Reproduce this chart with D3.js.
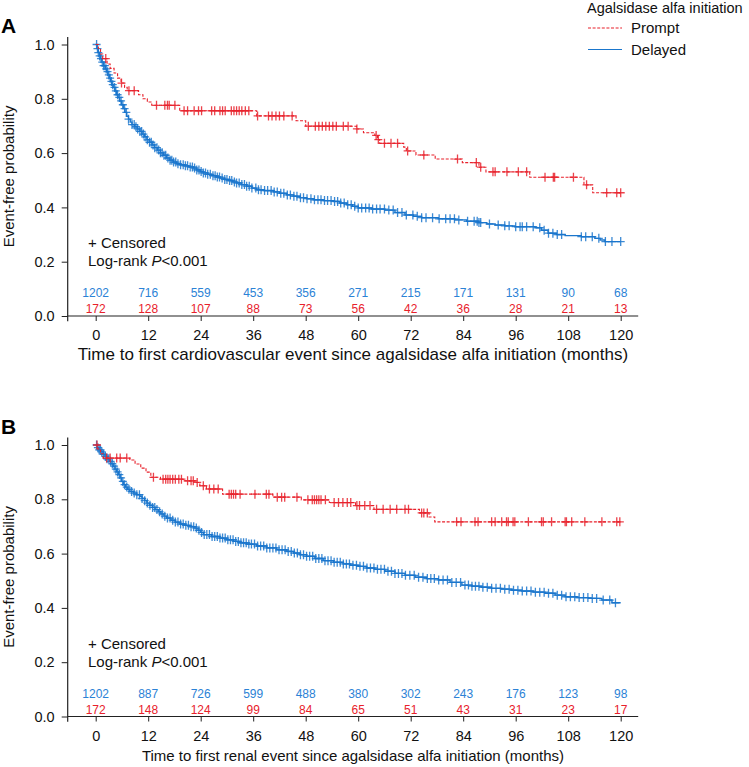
<!DOCTYPE html>
<html><head><meta charset="utf-8">
<script src="https://cdn.jsdelivr.net/npm/d3@7"></script>
<style>
html,body{margin:0;padding:0;background:#fff;}
svg text{font-family:"Liberation Sans",Arial,Helvetica,sans-serif;}
</style></head>
<body>
<svg id="chart" width="749" height="767"></svg>
<script>
// ---------- DATA ----------
const riskTicks = [0,12,24,36,48,60,72,84,96,108,120];
const yTicks = [0,0.2,0.4,0.6,0.8,1.0];
const groupNames = ["Prompt","Delayed"];
const legendTitle = "Agalsidase alfa initiation";

// Panel A: cardiovascular
const cvPromptTime = [0,0.6,1.1,1.6,2.6,3.3,4.2,5.0,5.8,6.6,7.2,9.8,10.8,11.8,12.8,19.2,36.8,45.8,48.0,59.6,61.2,63.8,64.4,64.9,70.4,71.0,73.2,77.6,83.8,87.6,89.2,99.2,111.6,113.6];
const cvPromptSurv = [1,0.985,0.965,0.948,0.928,0.912,0.895,0.876,0.858,0.842,0.83,0.815,0.8,0.788,0.776,0.756,0.737,0.719,0.699,0.689,0.675,0.665,0.65,0.636,0.622,0.608,0.593,0.578,0.565,0.548,0.531,0.511,0.483,0.454];
const cvPromptCensor = [2.3,5.9,7.6,8.8,13.9,15.8,16.4,16.8,18.1,20.2,21.0,22.5,23.5,24.2,26.5,27.2,28.4,29.0,29.6,31.0,31.6,32.2,32.8,33.4,34.2,35.0,37.0,39.5,40.3,41.2,42.0,43.0,44.9,48.6,50.2,51.0,51.8,52.6,53.4,54.2,55.0,56.6,57.7,59.7,64.1,64.6,66.0,67.5,69.0,71.3,75.0,82.7,87.0,88.0,90.8,91.3,94.0,96.6,98.5,102.7,104.6,104.9,109.2,112.2,116.8,119.1,120.0];

const cvDelayedTime = [0,0.3,0.6,0.9,1.1,1.4,1.8,2.2,2.5,2.8,3.1,3.4,3.7,4.0,4.4,4.8,5.1,5.5,5.9,6.3,6.7,7.1,7.5,7.9,8.3,8.9,9.5,10.1,10.6,11.2,11.7,12.3,12.9,13.5,14.1,14.8,15.5,16.2,16.9,17.7,18.5,19.3,20.3,21.3,22.3,23.1,23.9,24.6,25.6,26.5,27.5,28.4,29.4,30.3,31.3,32.2,33.3,34.5,35.7,36.8,38.5,40.6,42.0,43.6,45.2,46.7,48.2,49.7,52.0,54.3,55.8,57.4,58.7,60.0,63.0,66.1,68.4,70.7,72.6,74.5,78.3,82.1,84.8,87.5,89.4,91.3,93.5,95.8,100.4,101.9,103.4,105.3,107.3,111.0,114.1,115.3,116.4];
const cvDelayedSurv = [1,0.985,0.970,0.958,0.948,0.935,0.922,0.910,0.900,0.888,0.876,0.864,0.852,0.842,0.829,0.815,0.805,0.792,0.778,0.764,0.750,0.736,0.725,0.714,0.705,0.697,0.689,0.680,0.670,0.660,0.649,0.640,0.630,0.620,0.611,0.601,0.592,0.582,0.574,0.567,0.561,0.557,0.553,0.549,0.545,0.538,0.532,0.527,0.522,0.517,0.512,0.508,0.503,0.499,0.494,0.490,0.484,0.478,0.471,0.465,0.462,0.457,0.452,0.446,0.441,0.436,0.432,0.428,0.425,0.422,0.416,0.410,0.404,0.398,0.394,0.390,0.381,0.372,0.367,0.362,0.358,0.354,0.349,0.344,0.339,0.335,0.332,0.329,0.325,0.316,0.305,0.300,0.296,0.292,0.286,0.280,0.274];
const cvDelayedCensor = [0.2,0.4,0.6,0.9,1.2,1.5,1.8,2.1,2.4,2.7,3.0,3.3,3.6,3.9,4.3,4.6,5.0,5.4,5.8,6.2,6.6,7.0,7.5,8.3,8.8,9.2,9.6,10.1,10.5,10.9,11.3,11.8,12.3,12.7,13.1,13.5,14.0,14.4,14.8,15.2,15.6,16.0,16.5,17.0,17.4,17.8,18.3,18.8,19.4,20.0,20.5,21.0,21.6,22.1,22.6,23.1,23.6,24.1,24.6,25.1,25.6,26.2,26.8,27.3,27.8,28.3,28.9,29.5,30.0,30.6,31.1,31.7,32.2,32.8,33.4,34.0,34.5,35.1,35.7,36.6,37.2,37.8,38.6,39.3,40.1,40.8,41.5,42.3,43.0,43.8,44.5,45.3,46.0,46.8,47.5,48.3,49.2,50.0,50.8,51.5,52.3,53.0,53.8,54.6,55.3,56.0,56.8,57.6,58.4,59.2,60.0,60.8,61.7,62.5,63.3,64.2,65.0,66.0,67.0,68.0,69.0,70.0,71.0,72.5,73.5,74.5,75.5,77.0,78.5,80.0,81.0,82.0,83.0,85.0,86.5,87.2,87.6,88.0,90.0,92.0,93.5,94.5,96.0,97.0,97.5,98.5,100.0,101.5,102.5,103.5,104.5,105.5,106.5,111.0,112.0,113.5,115.0,116.5,118.0,120.0];

const cvRiskDelayed = [1202,716,559,453,356,271,215,171,131,90,68];
const cvRiskPrompt = [172,128,107,88,73,56,42,36,28,21,13];

// Panel B: renal
const renPromptTime = [0,0.5,1.1,1.7,7.8,9.0,10.3,11.5,12.6,14.8,20.4,23.0,23.8,25.3,29.0,40.5,47.0,53.4,59.4,63.6,74.0,76.2,77.5];
const renPromptSurv = [1,0.985,0.968,0.952,0.945,0.93,0.915,0.9,0.881,0.874,0.868,0.862,0.85,0.838,0.819,0.808,0.798,0.788,0.777,0.763,0.75,0.735,0.717];
const renPromptCensor = [0.3,2.5,3.3,4.8,5.6,7.1,13.2,15.4,16.0,16.5,17.0,17.6,18.2,19.0,19.6,21.0,21.8,22.3,23.2,24.6,26.0,27.0,28.0,30.5,31.0,31.5,32.0,33.0,36.4,39.0,39.6,41.5,42.5,43.2,46.0,48.5,49.5,50.0,50.5,51.0,51.5,52.5,54.5,55.5,56.5,57.5,58.3,59.7,60.3,61.5,62.7,64.2,65.7,67.3,68.8,70.7,71.5,74.5,75.0,75.8,82.5,83.5,86.7,87.4,90.5,91.3,92.8,93.9,94.3,95.4,95.8,98.9,101.9,102.3,104.2,107.3,107.6,108.8,111.8,115.7,119.1,119.8];

const renDelayedTime = [0,0.4,0.8,1.2,1.7,2.1,2.6,3.1,3.5,4.0,4.4,4.8,5.2,5.6,5.9,6.3,6.8,7.3,7.8,8.6,9.3,10.1,10.6,11.2,11.7,12.3,13.0,13.6,14.3,14.9,15.6,16.2,17.2,18.2,19.3,20.4,21.6,22.7,23.4,24.0,24.6,26.5,28.4,30.0,31.5,33.0,34.5,36.8,39.1,41.4,43.7,45.2,46.7,48.2,50.1,52.0,54.3,56.6,58.3,60.0,61.9,63.8,66.1,68.4,70.7,73.0,75.6,78.3,81.0,83.7,86.0,88.2,90.5,92.8,95.1,97.4,100.0,102.7,105.0,107.3,110.0,112.6,115.7,118.0];
const renDelayedSurv = [1,0.99,0.982,0.975,0.966,0.958,0.949,0.940,0.931,0.922,0.911,0.901,0.891,0.879,0.866,0.854,0.845,0.837,0.829,0.823,0.817,0.811,0.803,0.795,0.786,0.778,0.770,0.762,0.754,0.746,0.738,0.731,0.723,0.716,0.709,0.704,0.699,0.694,0.686,0.678,0.670,0.663,0.657,0.651,0.645,0.640,0.635,0.628,0.621,0.614,0.608,0.602,0.596,0.590,0.582,0.574,0.568,0.562,0.557,0.553,0.547,0.542,0.535,0.527,0.520,0.513,0.508,0.503,0.494,0.484,0.480,0.476,0.472,0.469,0.465,0.462,0.458,0.454,0.447,0.441,0.438,0.435,0.429,0.419];
const renDelayedCensor = [0.2,0.5,0.8,1.1,1.4,1.8,2.2,2.6,3.0,3.4,3.8,4.2,4.6,5.0,5.4,5.8,6.2,6.6,7.1,7.6,8.2,8.8,9.4,10.0,10.6,11.2,11.8,12.4,13.0,13.5,14.0,14.6,15.2,15.8,16.4,17.0,17.6,18.2,18.8,19.4,20.0,20.6,21.2,21.8,22.4,23.0,23.6,24.2,24.8,25.4,26.0,26.6,27.2,27.8,28.4,29.0,29.6,30.2,30.8,31.4,32.0,32.6,33.2,33.8,34.4,35.0,35.6,36.3,37.0,37.7,38.4,39.1,39.8,40.5,41.2,41.9,42.6,43.3,44.0,44.7,45.4,46.1,46.8,47.5,48.2,48.9,49.6,50.3,51.0,51.7,52.4,53.1,53.8,54.5,55.2,55.9,56.6,57.3,58.0,58.8,59.6,60.4,61.2,62.0,62.8,63.6,64.4,65.2,66.0,66.8,67.6,68.4,69.2,70.0,70.8,71.8,72.8,73.8,74.8,75.8,76.6,77.4,78.4,79.4,80.4,81.4,82.4,83.4,84.4,85.2,86.0,86.8,87.6,88.5,89.5,90.5,91.5,92.5,93.5,94.5,95.5,96.5,97.5,98.5,99.5,100.5,101.5,102.5,103.5,104.5,105.5,106.5,107.5,108.5,109.5,110.5,111.5,112.5,113.5,114.5,116.0,117.5,118.8];

const renRiskDelayed = [1202,887,726,599,488,380,302,243,176,123,98];
const renRiskPrompt = [172,148,124,99,84,65,51,43,31,23,17];

// ---------- STYLE ----------
const RED = "#e8212b", BLUE = "#1a76cc";
const svg = d3.select("#chart");
const x = d3.scaleLinear().domain([0,120]).range([95.7,620.7]);
const y = d3.scaleLinear().domain([0,1]).range([316,44.5]);

function stepFn(times, surv){
  return t => { let v = surv[0]; for (let i=0;i<times.length;i++){ if (times[i] <= t) v = surv[i]; else break; } return v; };
}
function stepPath(times, surv, tEnd){
  const pts = times.map((t,i)=>[t,surv[i]]);
  pts.push([tEnd, surv[surv.length-1]]);
  return d3.line().x(d=>x(d[0])).y(d=>y(d[1])).curve(d3.curveStepAfter)(pts);
}

function panel(offsetY, letter, title, titleSize, series, riskD, riskP){
  const g = svg.append("g").attr("transform", `translate(0,${offsetY})`);
  g.append("text").attr("x",1).attr("y",33).attr("font-size",21).attr("font-weight","bold").attr("fill","#000").text(letter);

  // y axis
  const ya = g.append("g").attr("transform", `translate(${x(-6.4)},0)`)
    .call(d3.axisLeft(y).tickValues(yTicks).tickFormat(d3.format(".1f")).tickSize(6).tickPadding(7));
  ya.select(".domain").remove();
  ya.selectAll("text").attr("font-size",14.5).attr("fill","#111").style("font-family","'Liberation Sans',Arial,sans-serif");
  ya.selectAll("line").attr("stroke","#222");
  g.append("line").attr("x1",x(-6.4)).attr("x2",x(-6.4)).attr("y1",y(1.028)).attr("y2",y(-0.019)).attr("stroke","#222").attr("stroke-width",1.2);

  // x axis
  const xa = g.append("g").attr("transform", `translate(0,${y(0)})`)
    .call(d3.axisBottom(x).tickValues(riskTicks).tickFormat(d3.format("d")).tickSize(5).tickPadding(9));
  xa.select(".domain").remove();
  xa.selectAll("text").attr("font-size",14.5).attr("fill","#111").style("font-family","'Liberation Sans',Arial,sans-serif");
  xa.selectAll("line").attr("stroke","#222");
  g.append("line").attr("x1",x(-6.4)).attr("x2",x(124)).attr("y1",y(0)).attr("y2",y(0)).attr("stroke","#222").attr("stroke-width",1.2);

  // axis titles
  g.append("text").attr("transform", `translate(14,${(y(0)+y(1.028))/2}) rotate(-90)`).attr("text-anchor","middle")
    .attr("font-size",15).attr("fill","#111").text("Event-free probability");
  g.append("text").attr("x",(x(-6.4)+x(124))/2).attr("y",360).attr("text-anchor","middle")
    .attr("font-size",titleSize).attr("fill","#111").text(title);

  // curves
  series.forEach(s=>{
    g.append("path").attr("d", stepPath(s.time, s.surv, 120)).attr("fill","none")
      .attr("stroke", s.color).attr("stroke-width", s.dash ? 1.1 : 1.4)
      .attr("stroke-dasharray", s.dash ? "3,1.6" : null);
    const f = stepFn(s.time, s.surv);
    g.append("g").selectAll("path").data(s.censor).join("path")
      .attr("transform", d=>`translate(${x(d)},${y(f(d))})`)
      .attr("d","M-4,0H4M0,-4.5V4.5").attr("stroke", s.color).attr("stroke-width",1.3)
      .attr("stroke-opacity", 0.85).attr("fill","none");
  });

  // annotations
  g.append("text").attr("x",88).attr("y",248).attr("font-size",15).attr("fill","#111").text("+ Censored");
  const lr = g.append("text").attr("x",88).attr("y",266).attr("font-size",15).attr("fill","#111");
  lr.append("tspan").text("Log-rank ");
  lr.append("tspan").attr("font-style","italic").text("P");
  lr.append("tspan").text("<0.001");

  // numbers at risk
  g.append("g").selectAll("text").data(riskD).join("text")
    .attr("x",(d,i)=>x(riskTicks[i])).attr("y",297).attr("text-anchor","middle")
    .attr("font-size",12).attr("fill","#2b82d6").text(d=>d);
  g.append("g").selectAll("text").data(riskP).join("text")
    .attr("x",(d,i)=>x(riskTicks[i])).attr("y",313).attr("text-anchor","middle")
    .attr("font-size",12).attr("fill",RED).text(d=>d);
}

panel(0, "A", "Time to first cardiovascular event since agalsidase alfa initiation (months)", 17,
  [{time:cvDelayedTime, surv:cvDelayedSurv, censor:cvDelayedCensor, color:BLUE, dash:false},
   {time:cvPromptTime, surv:cvPromptSurv, censor:cvPromptCensor, color:RED, dash:true}],
  cvRiskDelayed, cvRiskPrompt);
panel(400.5, "B", "Time to first renal event since agalsidase alfa initiation (months)", 15,
  [{time:renDelayedTime, surv:renDelayedSurv, censor:renDelayedCensor, color:BLUE, dash:false},
   {time:renPromptTime, surv:renPromptSurv, censor:renPromptCensor, color:RED, dash:true}],
  renRiskDelayed, renRiskPrompt);

// legend
const lg = svg.append("g");
lg.append("text").attr("x",587).attr("y",13).attr("font-size",14.5).attr("fill","#111").text(legendTitle);
const legColors = [RED, BLUE];
groupNames.forEach((n,i)=>{
  const yy = 28 + i*21.5;
  lg.append("line").attr("x1",588).attr("x2",622).attr("y1",yy).attr("y2",yy)
    .attr("stroke",legColors[i]).attr("stroke-width",1.2).attr("stroke-dasharray", i===0 ? "3,1.6" : null);
  lg.append("text").attr("x",631).attr("y",yy+5).attr("font-size",15).attr("fill","#111").text(n);
});
</script>
</body></html>
